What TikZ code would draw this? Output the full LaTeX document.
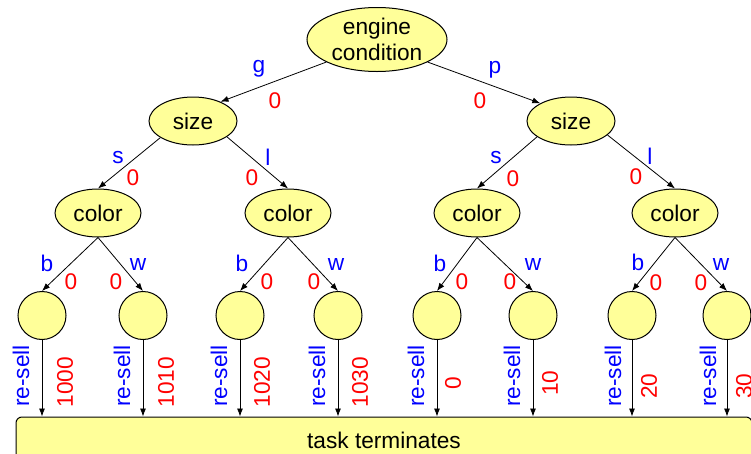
\documentclass[tikz,border=0pt]{standalone}
\usepackage{fontspec}
\setmainfont{Liberation Sans}
\usetikzlibrary{shapes.geometric,arrows.meta}
\definecolor{nodefill}{HTML}{FFFF99}
\definecolor{lblue}{HTML}{0000FF}
\definecolor{lred}{HTML}{FF0000}
\begin{document}
\begin{tikzpicture}[x=0.75pt,y=-0.75pt,
  font=\fontsize{17}{19.5}\selectfont,
  every node/.style={inner sep=0pt},
  tnode/.style={ellipse,draw=black,fill=nodefill,line width=0.75pt},
  rootnode/.style={tnode,minimum width=105pt,minimum height=48pt,align=center},
  sizenode/.style={tnode,minimum width=66pt,minimum height=36pt},
  colornode/.style={tnode,minimum width=64.5pt,minimum height=36pt},
  leafnode/.style={circle,draw=black,fill=nodefill,line width=0.75pt,minimum size=36pt},
  termbox/.style={draw=black,fill=nodefill,line width=0.75pt,rounded corners=4.5pt,minimum width=552pt,minimum height=34.5pt},
  conn/.style={draw=black,line width=0.6pt,-{Latex[length=6pt,width=4.5pt]}},
  act/.style={text=lblue},
  rew/.style={text=lred},
  ract/.style={text=lblue,rotate=90},
  rrew/.style={text=lred,rotate=90}]
\useasboundingbox (0,0) rectangle (751,454);
\clip (0,0) rectangle (751,454);

% tree nodes
\node[rootnode] (root) at (377,39.5) {engine\\condition};
\node[sizenode] (sL) at (193,121) {size};
\node[sizenode] (sR) at (571,121) {size};
\node[colornode] (c1) at (98,213) {color};
\node[colornode] (c2) at (288,213) {color};
\node[colornode] (c3) at (477,213) {color};
\node[colornode] (c4) at (675,213) {color};
\node[leafnode] (f1) at (42,315.5) {};
\node[leafnode] (f2) at (143,315.5) {};
\node[leafnode] (f3) at (240,315.5) {};
\node[leafnode] (f4) at (338,315.5) {};
\node[leafnode] (f5) at (437,315.5) {};
\node[leafnode] (f6) at (533,315.5) {};
\node[leafnode] (f7) at (632,315.5) {};
\node[leafnode] (f8) at (727,315.5) {};
\node[termbox] (box) at (384,440) {task terminates};

% connectors
\draw[conn] (root.204) -- (sL.35);
\draw[conn] (root.-24) -- (sR.150);
\draw[conn] (sL.207) -- (c1.north);
\draw[conn] (sL.-25) -- (c2.north);
\draw[conn] (sR.205) -- (c3.north);
\draw[conn] (sR.-21) -- (c4.north);
\draw[conn] (c1.south) -- (f1.north);
\draw[conn] (c1.south) -- (f2.north);
\draw[conn] (c2.south) -- (f3.north);
\draw[conn] (c2.south) -- (f4.north);
\draw[conn] (c3.south) -- (f5.north);
\draw[conn] (c3.south) -- (f6.north);
\draw[conn] (c4.south) -- (f7.north);
\draw[conn] (c4.south) -- (f8.north);
\foreach \f in {f1,f2,f3,f4,f5,f6,f7,f8}
  \draw[conn] (\f.south) -- (\f.south |- box.north);

% edge labels
\node[act] (lg) at (259,69) {g};
\node[rew] (lg0) at (275,101) {0};
\node[act] (lp) at (495,70) {p};
\node[rew] (lp0) at (480,101) {0};
\node[act] (ls1) at (118,158) {s};
\node[rew] (ls10) at (133,178) {0};
\node[act] (ll1) at (268,157) {l};
\node[rew] (ll10) at (252,178) {0};
\node[act] (ls2) at (496,158) {s};
\node[rew] (ls20) at (513,179) {0};
\node[act] (ll2) at (650,156) {l};
\node[rew] (ll20) at (636,177) {0};

\node[act] (lb1) at (47,263) {b};
\node[rew] (lb10) at (71,282) {0};
\node[act] (lw1) at (138,265) {w};
\node[rew] (lw10) at (116,282) {0};
\node[act] (lb2) at (242,263) {b};
\node[rew] (lb20) at (267,282) {0};
\node[act] (lw2) at (336,265) {w};
\node[rew] (lw20) at (314,282) {0};
\node[act] (lb3) at (440,263) {b};
\node[rew] (lb30) at (462,282) {0};
\node[act] (lw3) at (533,265) {w};
\node[rew] (lw30) at (510,282) {0};
\node[act] (lb4) at (638,262) {b};
\node[rew] (lb40) at (656,283) {0};
\node[act] (lw4) at (721,265) {w};
\node[rew] (lw40) at (701,283) {0};

% terminal labels
\node[ract] (r1) at (21,376) {re-sell};
\node[ract] (r2) at (122,376) {re-sell};
\node[ract] (r3) at (219,376) {re-sell};
\node[ract] (r4) at (317,376) {re-sell};
\node[ract] (r5) at (416,376) {re-sell};
\node[ract] (r6) at (512,376) {re-sell};
\node[ract] (r7) at (613,376) {re-sell};
\node[ract] (r8) at (708,376) {re-sell};
\node[rrew] (v1) at (65,382) {1000};
\node[rrew] (v2) at (166,382) {1010};
\node[rrew] (v3) at (262,382) {1020};
\node[rrew] (v4) at (360,382) {1030};
\node[rrew] (v5) at (453,383) {0};
\node[rrew] (v6) at (550,383) {10};
\node[rrew] (v7) at (649,386) {20};
\node[rrew] (v8) at (744,386) {30};
\end{tikzpicture}
\end{document}
